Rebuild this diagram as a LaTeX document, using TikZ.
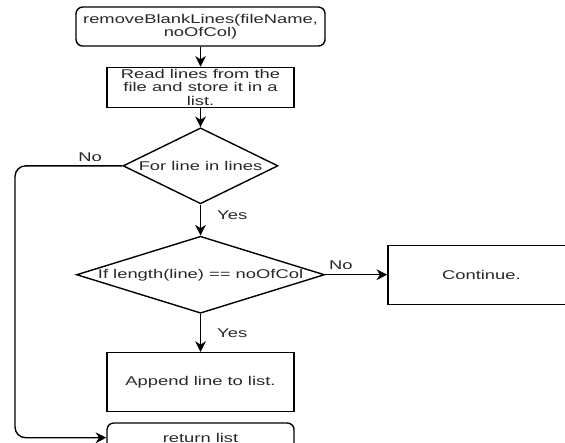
\documentclass[tikz,border=0pt]{standalone}
\usepackage{fontspec}
\setmainfont[FakeStretch=1.45]{Liberation Sans}
\usepackage{xcolor}
\usetikzlibrary{arrows.meta,positioning,shapes.geometric}
\definecolor{inkgray}{RGB}{40,40,40}

\begin{document}
\begin{tikzpicture}[
  font=\fontsize{9.5}{10}\selectfont,
  text=inkgray,
  line width=1.05pt,
  box/.style={draw, align=center, inner sep=1pt, minimum width=140.25pt},
  dec/.style={draw, diamond, inner sep=0pt},
  arr/.style={-{Stealth[length=8pt,width=8pt,inset=2.5pt]}},
  lbl/.style={inner sep=1pt}
]
\path[use as bounding box, clip] (0,0) rectangle (423.75pt,-332.25pt);
\node[box, rounded corners=5pt, minimum width=186.75pt, minimum height=29.25pt] (start) at (150.4pt,-19.9pt) {removeBlankLines(fileName,\\noOfCol)};
\node[box, minimum height=30pt, below=15pt of start] (read) {Read lines from the\\file and store it in a\\list.};
\node[dec, minimum width=116.25pt, minimum height=57pt, below=14.25pt of read, label=center:For line in lines] (loop) {};
\node[dec, minimum width=186pt, minimum height=57.75pt, below=23.25pt of loop, label=center:{If length(line) == noOfCol}] (check) {};
\node[box, minimum height=44.25pt, right=46.5pt of check] (cont) {Continue.};
\node[box, minimum height=44.25pt, below=28.5pt of check] (append) {Append line to list.};
\node[box, rounded corners=5pt, minimum height=22pt, below=7.5pt of append] (ret) {return list};
\coordinate (lft) at (11.25pt,0);

\draw[arr] (start) -- (read);
\draw[arr] (read) -- (loop);
\draw[arr] (loop) -- node[lbl, right=11pt, pos=0.35]{Yes} (check);
\draw[arr] (check) -- node[lbl, right=11pt]{Yes} (append);
\draw[arr] (check) -- node[lbl, above=2pt, pos=0.25]{No} (cont);
\draw[arr, rounded corners=8pt] (loop.west) -- node[lbl, above=2pt, pos=0.3]{No} (lft |- loop.west) -- (lft |- ret.west) -- (ret.west);
\end{tikzpicture}
\end{document}
